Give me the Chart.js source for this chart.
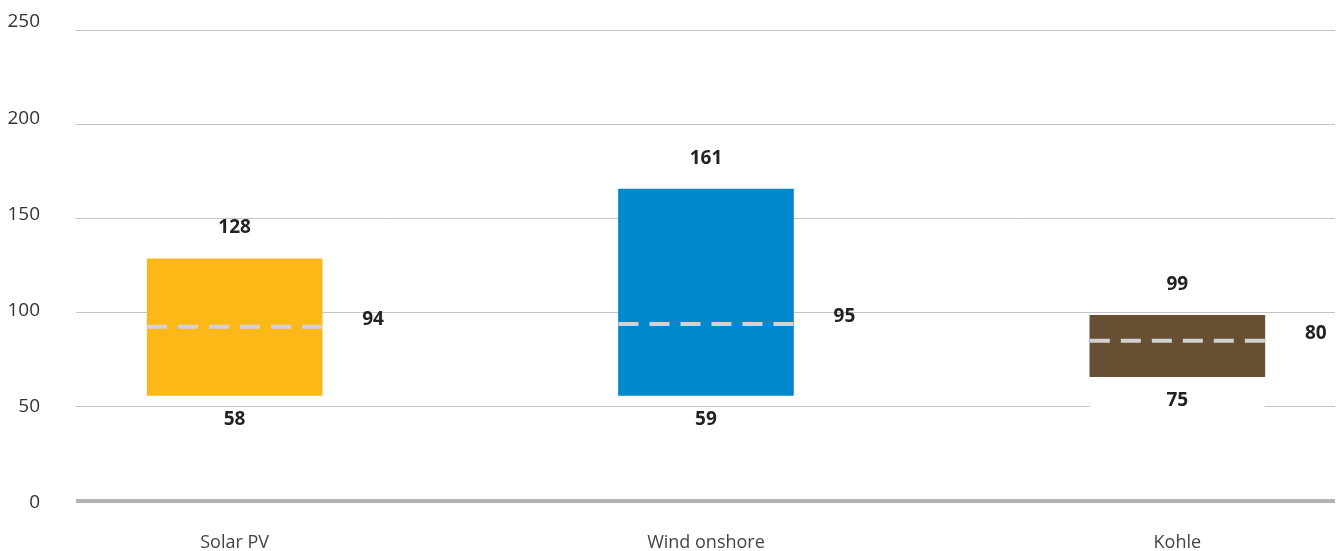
<!DOCTYPE html>
<html>
<head>
<meta charset="utf-8">
<script src="https://cdn.jsdelivr.net/npm/chart.js@4"></script>
<style>
html,body{margin:0;padding:0;background:#fff}
#wrap{width:1341px;height:551px}
</style>
</head>
<body>
<div id="wrap"><canvas id="chart"></canvas></div>
<script>
// categories and values
const categories=["Solar PV","Wind onshore","Kohle"]
const barLow=[56,56,66]
const barHigh=[128.5,165.5,98.5]
const meanLine=[92.5,94,85]
// printed labels
const labelHigh=["128","161","99"]
const labelLow=["58","59","75"]
const labelMean=["94","95","80"]
const yTicks=[0,50,100,150,200,250]
const colors=["#FBB817","#0088CF","#674F33"]

const FONT="'Open Sans', sans-serif"

const rangeLabels={
id:"rangeLabels",
afterDatasetsDraw(chart){
let ctx=chart.ctx
let y=chart.scales.y
let meta=chart.getDatasetMeta(0)
ctx.save()
meta.data.forEach((bar,i)=>{
let left=bar.x-bar.width/2
let right=bar.x+bar.width/2
let top=Math.min(bar.y,bar.base)
let bottom=Math.max(bar.y,bar.base)
let my=y.getPixelForValue(meanLine[i])

// dashed mean line
ctx.strokeStyle="#d2d2d2"
ctx.lineWidth=4
ctx.setLineDash([20,11])
ctx.beginPath()
ctx.moveTo(left,my)
ctx.lineTo(right,my)
ctx.stroke()
ctx.setLineDash([])

// white box behind lower label
let ly=bottom+24
ctx.fillStyle="#fff"
ctx.fillRect(left,ly-10,bar.width,20)

ctx.fillStyle="#222"
ctx.font="bold 19px "+FONT
ctx.textAlign="center"
ctx.textBaseline="middle"
ctx.fillText(labelHigh[i],bar.x,top-31)
ctx.fillText(labelLow[i],bar.x,ly)
ctx.fillText(labelMean[i],right+51,my-7)
})
ctx.restore()
}
}

function noPad(s){
s.paddingTop=0
s.paddingBottom=0
s.paddingLeft=0
s.paddingRight=0
}

new Chart(document.getElementById("chart"),{
type:"bar",
data:{
datasets:[{
data:categories.map((c,i)=>({x:i,y:[barLow[i],barHigh[i]]})),
backgroundColor:colors,
barThickness:175,
borderWidth:0
}]
},
options:{
responsive:true,
maintainAspectRatio:false,
animation:false,
layout:{padding:{top:30,right:6,left:0,bottom:0}},
plugins:{legend:{display:false},tooltip:{enabled:false}},
scales:{
x:{
type:"linear",
offset:false,
min:-0.3365,
max:2.3345,
grid:{display:false,drawTicks:false},
border:{display:false},
afterBuildTicks:s=>{s.ticks=categories.map((c,i)=>({value:i}))},
afterFit:s=>{s.height=50;noPad(s)},
ticks:{
padding:31,
autoSkip:false,
maxRotation:0,
color:"#444",
font:{family:FONT,size:18},
callback:v=>categories[v]
}
},
y:{
min:0,
max:250,
afterBuildTicks:s=>{s.ticks=yTicks.map(v=>({value:v}))},
afterFit:s=>{s.width=0;noPad(s)},
border:{display:false},
grid:{
drawTicks:false,
color:c=>c.tick&&c.tick.value===0?"#b3b3b3":"#c4c4c4",
lineWidth:c=>c.tick&&c.tick.value===0?4:1
},
ticks:{display:false}
},
// tick labels sit on a slightly wider spacing than the grid lines
yl:{
position:"left",
min:1.04,
max:245.8,
afterBuildTicks:s=>{s.ticks=yTicks.map(v=>({value:v}))},
afterFit:s=>{s.width=76;noPad(s)},
border:{display:false},
grid:{display:false,drawTicks:false},
ticks:{
padding:36,
color:"#333",
font:{family:FONT,size:19}
}
}
}
},
plugins:[rangeLabels]
})
</script>
</body>
</html>
